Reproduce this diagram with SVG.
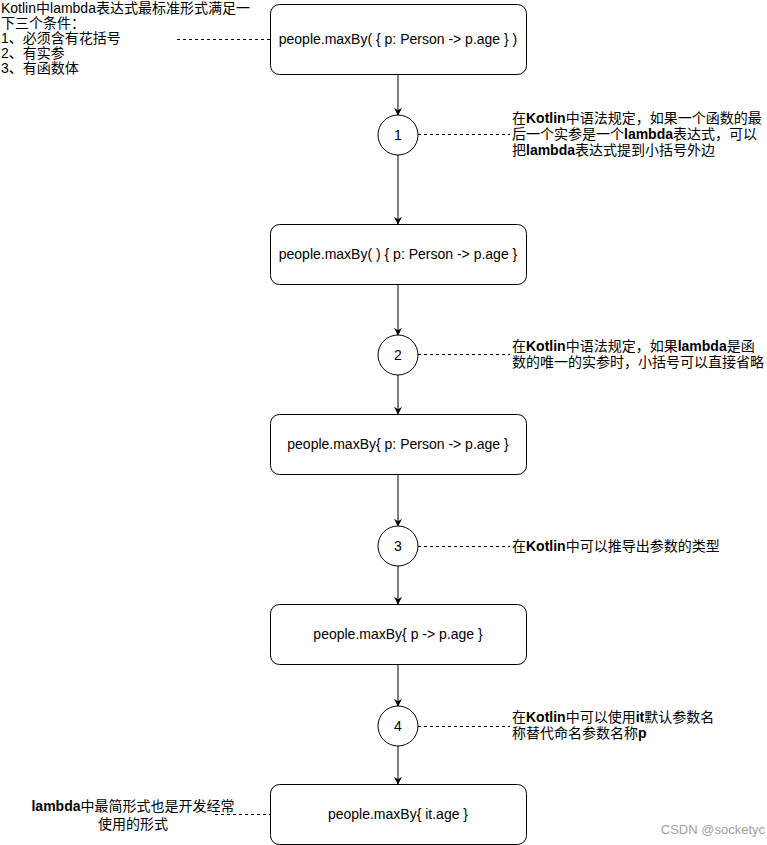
<svg xmlns="http://www.w3.org/2000/svg" width="767" height="845" viewBox="0 0 767 845">
<defs>
<style>
text{font-family:"Liberation Sans","Noto Sans CJK SC",Arial,sans-serif;font-size:14px;fill:#000}
.box{fill:#fff;stroke:#000;stroke-width:1}
.circ{fill:#fff;stroke:#000;stroke-width:1}
.edge{stroke:#000;stroke-width:1;fill:none}
.dash{stroke:#000;stroke-width:1;fill:none;stroke-dasharray:3 3}
.b{font-weight:bold}
.mid{text-anchor:middle}
</style>
<marker id="arr" viewBox="0 0 10 10" refX="9" refY="5" markerWidth="8" markerHeight="8" markerUnits="userSpaceOnUse" orient="auto">
<path d="M0,0 L10,5 L0,10 L3,5 Z" fill="#000"/>
</marker>
</defs>
<rect width="767" height="845" fill="#fff"/>
<g id="connectors">
<line class="edge" x1="398" y1="74" x2="398" y2="115" marker-end="url(#arr)"/>
<line class="edge" x1="398" y1="155" x2="398" y2="224" marker-end="url(#arr)"/>
<line class="edge" x1="398" y1="284" x2="398" y2="335" marker-end="url(#arr)"/>
<line class="edge" x1="398" y1="375" x2="398" y2="414" marker-end="url(#arr)"/>
<line class="edge" x1="398" y1="474" x2="398" y2="526" marker-end="url(#arr)"/>
<line class="edge" x1="398" y1="566" x2="398" y2="604" marker-end="url(#arr)"/>
<line class="edge" x1="398" y1="664" x2="398" y2="706" marker-end="url(#arr)"/>
<line class="edge" x1="398" y1="746" x2="398" y2="784" marker-end="url(#arr)"/>
<line class="dash" x1="177" y1="39.5" x2="270" y2="39.5"/>
<line class="dash" x1="418" y1="134.5" x2="510" y2="134.5"/>
<line class="dash" x1="418" y1="354.5" x2="510" y2="354.5"/>
<line class="dash" x1="418" y1="546.5" x2="510" y2="546.5"/>
<line class="dash" x1="418" y1="726.5" x2="510" y2="726.5"/>
<line class="dash" x1="215" y1="814.5" x2="270" y2="814.5"/>
</g>
<g id="note-top">
<text x="1" y="13">Kotlin中lambda表达式最标准形式满足一</text>
<text x="1" y="28">下三个条件：</text>
<text x="1" y="43">1、必须含有花括号</text>
<text x="1" y="58">2、有实参</text>
<text x="1" y="73">3、有函数体</text>
</g>
<g id="box1">
<rect class="box" x="270.5" y="4.5" width="256" height="70" rx="9"/>
<text class="mid" x="398" y="44">people.maxBy( { p: Person -&gt; p.age } )</text>
</g>
<g id="step1">
<circle class="circ" cx="398" cy="135" r="20"/>
<text class="mid" x="398" y="140">1</text>
</g>
<g id="note1">
<text x="512" y="123">在<tspan class="b">Kotlin</tspan>中语法规定，如果一个函数的最</text>
<text x="512" y="139">后一个实参是一个<tspan class="b">lambda</tspan>表达式，可以</text>
<text x="512" y="155">把<tspan class="b">lambda</tspan>表达式提到小括号外边</text>
</g>
<g id="box2">
<rect class="box" x="270.5" y="224.5" width="256" height="60" rx="9"/>
<text class="mid" x="398" y="259">people.maxBy( ) { p: Person -&gt; p.age }</text>
</g>
<g id="step2">
<circle class="circ" cx="398" cy="355" r="20"/>
<text class="mid" x="398" y="360">2</text>
</g>
<g id="note2">
<text x="512" y="351">在<tspan class="b">Kotlin</tspan>中语法规定，如果<tspan class="b">lambda</tspan>是函</text>
<text x="512" y="367">数的唯一的实参时，小括号可以直接省略</text>
</g>
<g id="box3">
<rect class="box" x="270.5" y="414.5" width="256" height="60" rx="9"/>
<text class="mid" x="398" y="449">people.maxBy{ p: Person -&gt; p.age }</text>
</g>
<g id="step3">
<circle class="circ" cx="398" cy="546" r="20"/>
<text class="mid" x="398" y="551">3</text>
</g>
<g id="note3">
<text x="512" y="551">在<tspan class="b">Kotlin</tspan>中可以推导出参数的类型</text>
</g>
<g id="box4">
<rect class="box" x="270.5" y="604.5" width="256" height="60" rx="9"/>
<text class="mid" x="398" y="639">people.maxBy{ p -&gt; p.age }</text>
</g>
<g id="step4">
<circle class="circ" cx="398" cy="726" r="20"/>
<text class="mid" x="398" y="731">4</text>
</g>
<g id="note4">
<text x="512" y="722">在<tspan class="b">Kotlin</tspan>中可以使用<tspan class="b">it</tspan>默认参数名</text>
<text x="512" y="738">称替代命名参数名称<tspan class="b">p</tspan></text>
</g>
<g id="box5">
<rect class="box" x="270.5" y="784.5" width="256" height="60" rx="9"/>
<text class="mid" x="398" y="819">people.maxBy{ it.age }</text>
</g>
<g id="note5">
<text class="mid" x="133" y="811"><tspan class="b">lambda</tspan>中最简形式也是开发经常</text>
<text class="mid" x="133" y="829">使用的形式</text>
</g>
<text x="765" y="834" style="text-anchor:end;font-size:13px;fill:#a0a0a0">CSDN @socketyc</text>
</svg>
